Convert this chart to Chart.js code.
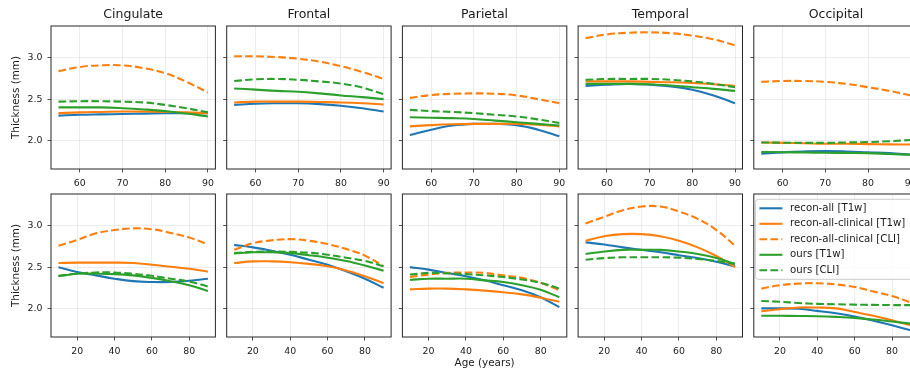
<!DOCTYPE html>
<html>
<head>
<meta charset="utf-8">
<script src="https://cdn.jsdelivr.net/npm/chart.js@4.4.1/dist/chart.umd.min.js"></script>
<style>
  html, body { margin: 0; padding: 0; background: #fff; }
  body { width: 910px; height: 373px; position: relative; overflow: hidden; }
  .panel { position: absolute; }
</style>
</head>
<body>
<script>
const regions = ['Cingulate', 'Frontal', 'Parietal', 'Temporal', 'Occipital'];
const seriesLabels = ['recon-all [T1w]', 'recon-all-clinical [T1w]', 'recon-all-clinical [CLI]', 'ours [T1w]', 'ours [CLI]'];
const seriesColors = ['#1f77b4', '#ff7f0e', '#ff7f0e', '#2ca02c', '#2ca02c'];
const seriesDashed = [false, false, true, false, true];
const yTicks = [2.0, 2.5, 3.0];
const xTicksOld = [60, 70, 80, 90];
const xTicksAll = [20, 40, 60, 80];
const agesOld = [55, 60, 65, 70, 75, 80, 85, 90];
const agesAll = [10, 20, 30, 40, 50, 60, 70, 80, 90];

// top row (55-90), one array per region
const oldReconAll = [
    [2.30, 2.31, 2.315, 2.32, 2.325, 2.33, 2.33, 2.33],
    [2.43, 2.445, 2.45, 2.45, 2.44, 2.42, 2.39, 2.35],
    [2.065, 2.13, 2.18, 2.20, 2.20, 2.185, 2.13, 2.05],
    [2.66, 2.675, 2.685, 2.675, 2.655, 2.615, 2.545, 2.45],
    [1.84, 1.855, 1.865, 1.87, 1.865, 1.855, 1.845, 1.825]
];
const oldClinicalT1w = [
    [2.33, 2.34, 2.345, 2.35, 2.35, 2.345, 2.34, 2.33],
    [2.46, 2.47, 2.47, 2.47, 2.465, 2.46, 2.45, 2.435],
    [2.17, 2.185, 2.195, 2.20, 2.20, 2.20, 2.19, 2.17],
    [2.715, 2.715, 2.715, 2.71, 2.705, 2.695, 2.68, 2.66],
    [1.975, 1.97, 1.965, 1.96, 1.96, 1.955, 1.952, 1.95]
];
const oldClinicalCli = [
    [2.84, 2.89, 2.91, 2.91, 2.875, 2.815, 2.71, 2.58],
    [3.02, 3.02, 3.01, 2.99, 2.955, 2.90, 2.83, 2.745],
    [2.515, 2.55, 2.565, 2.57, 2.565, 2.545, 2.50, 2.45],
    [3.24, 3.285, 3.305, 3.31, 3.30, 3.27, 3.225, 3.155],
    [2.71, 2.72, 2.72, 2.71, 2.685, 2.645, 2.60, 2.545]
];
const oldOursT1w = [
    [2.40, 2.40, 2.40, 2.39, 2.375, 2.355, 2.325, 2.29],
    [2.63, 2.615, 2.60, 2.59, 2.57, 2.545, 2.525, 2.50],
    [2.28, 2.275, 2.27, 2.26, 2.24, 2.22, 2.20, 2.18],
    [2.685, 2.685, 2.685, 2.68, 2.665, 2.645, 2.625, 2.60],
    [1.86, 1.857, 1.853, 1.85, 1.848, 1.845, 1.835, 1.825]
];
const oldOursCli = [
    [2.47, 2.475, 2.475, 2.47, 2.46, 2.43, 2.39, 2.34],
    [2.72, 2.74, 2.745, 2.735, 2.715, 2.69, 2.64, 2.56],
    [2.37, 2.355, 2.345, 2.33, 2.31, 2.29, 2.255, 2.21],
    [2.735, 2.745, 2.745, 2.745, 2.735, 2.715, 2.685, 2.645],
    [1.975, 1.972, 1.97, 1.97, 1.975, 1.98, 1.99, 2.005]
];

// bottom row (10-90)
const allReconAll = [
    [2.50, 2.44, 2.40, 2.36, 2.33, 2.32, 2.32, 2.335, 2.36],
    [2.77, 2.74, 2.70, 2.65, 2.59, 2.53, 2.45, 2.36, 2.25],
    [2.50, 2.47, 2.43, 2.39, 2.34, 2.28, 2.22, 2.135, 2.015],
    [2.80, 2.775, 2.74, 2.71, 2.68, 2.645, 2.61, 2.565, 2.51],
    [2.00, 2.00, 1.995, 1.97, 1.94, 1.90, 1.85, 1.795, 1.735]
];
const allClinicalT1w = [
    [2.55, 2.555, 2.555, 2.555, 2.55, 2.53, 2.505, 2.48, 2.445],
    [2.55, 2.57, 2.57, 2.56, 2.54, 2.51, 2.46, 2.39, 2.305],
    [2.23, 2.24, 2.24, 2.23, 2.215, 2.195, 2.17, 2.13, 2.08],
    [2.82, 2.875, 2.90, 2.90, 2.875, 2.82, 2.74, 2.635, 2.50],
    [1.965, 1.99, 2.01, 2.01, 2.00, 1.955, 1.91, 1.855, 1.795]
];
const allClinicalCli = [
    [2.76, 2.83, 2.91, 2.95, 2.97, 2.96, 2.915, 2.86, 2.775],
    [2.71, 2.79, 2.825, 2.84, 2.82, 2.78, 2.72, 2.64, 2.51],
    [2.38, 2.41, 2.43, 2.435, 2.43, 2.40, 2.37, 2.31, 2.22],
    [3.03, 3.11, 3.19, 3.235, 3.235, 3.175, 3.085, 2.95, 2.76],
    [2.24, 2.28, 2.30, 2.305, 2.29, 2.26, 2.205, 2.15, 2.07]
];
const allOursT1w = [
    [2.39, 2.42, 2.42, 2.415, 2.40, 2.37, 2.33, 2.28, 2.21],
    [2.665, 2.68, 2.68, 2.67, 2.645, 2.615, 2.575, 2.52, 2.455],
    [2.345, 2.36, 2.36, 2.36, 2.34, 2.32, 2.28, 2.225, 2.135],
    [2.66, 2.69, 2.71, 2.71, 2.71, 2.69, 2.66, 2.61, 2.54],
    [1.91, 1.91, 1.908, 1.905, 1.897, 1.885, 1.865, 1.84, 1.815]
];
const allOursCli = [
    [2.395, 2.42, 2.435, 2.435, 2.42, 2.395, 2.36, 2.325, 2.265],
    [2.67, 2.685, 2.69, 2.685, 2.675, 2.65, 2.615, 2.575, 2.51],
    [2.41, 2.43, 2.425, 2.415, 2.40, 2.38, 2.35, 2.31, 2.24],
    [2.59, 2.61, 2.62, 2.62, 2.62, 2.615, 2.60, 2.575, 2.54],
    [2.09, 2.08, 2.065, 2.055, 2.05, 2.045, 2.042, 2.04, 2.04]
];

const oldSeries = [oldReconAll, oldClinicalT1w, oldClinicalCli, oldOursT1w, oldOursCli];
const allSeries = [allReconAll, allClinicalT1w, allClinicalCli, allOursT1w, allOursCli];

Chart.defaults.font.family = '"DejaVu Sans", sans-serif';
Chart.defaults.color = '#1a1a1a';
Chart.defaults.animation = false;

// panel frame (all four spines)
const framePlugin = {
    id: 'frame',
    afterDraw(chart) {
        const {ctx, chartArea: a} = chart;
        ctx.save();
        ctx.strokeStyle = '#262626';
        ctx.lineWidth = 1;
        ctx.strokeRect(a.left, a.top, a.right - a.left, a.bottom - a.top);
        ctx.restore();
    }
};

const titlePlugin = {
    id: 'panelTitle',
    afterDraw(chart, args, opts) {
        if (!opts.text) return;
        const {ctx, chartArea: a} = chart;
        ctx.save();
        ctx.font = '12.5px "DejaVu Sans"';
        ctx.fillStyle = '#1a1a1a';
        ctx.textAlign = 'center';
        ctx.textBaseline = 'middle';
        ctx.fillText(opts.text, (a.left + a.right) / 2, a.top - 11.5);
        ctx.restore();
    }
};

const legendPlugin = {
    id: 'panelLegend',
    afterDraw(chart, args, opts) {
        if (!opts.show) return;
        const {ctx, chartArea: a} = chart;
        const x0 = a.left + 1.6, y0 = a.top + 5.3;
        ctx.save();
        ctx.beginPath();
        ctx.roundRect(x0, y0, 158, 80, 3);
        ctx.fillStyle = 'rgba(255,255,255,0.8)';
        ctx.fill();
        ctx.strokeStyle = '#cccccc';
        ctx.lineWidth = 1;
        ctx.stroke();
        chart.data.datasets.forEach((ds, i) => {
            const y = y0 + 9 + i * 15.5;
            ctx.strokeStyle = ds.borderColor;
            ctx.lineWidth = ds.borderWidth;
            ctx.setLineDash(ds.borderDash || []);
            ctx.beginPath();
            ctx.moveTo(x0 + 4, y);
            ctx.lineTo(x0 + 27, y);
            ctx.stroke();
            ctx.setLineDash([]);
            ctx.fillStyle = '#1a1a1a';
            ctx.font = '10.2px "DejaVu Sans"';
            ctx.textBaseline = 'middle';
            ctx.fillText(ds.label, x0 + 34.7, y);
        });
        ctx.restore();
    }
};

const panelLeft0 = 51, panelStep = 175.7, panelW = 164.4, panelH = 143;
const rowTops = [26, 194];

function makePanel(row, col) {
    const ages = row === 0 ? agesOld : agesAll;
    const series = row === 0 ? oldSeries : allSeries;
    const xTicks = row === 0 ? xTicksOld : xTicksAll;
    const xSpan = ages[ages.length - 1] - ages[0];

    const yW = col === 0 ? 51 : 8;
    const padTop = row === 0 ? 26 : 6;
    const xH = row === 0 ? 24 : 36;
    const areaLeft = panelLeft0 + panelStep * col;
    const divLeft = Math.floor(areaLeft - yW);
    const padL = areaLeft - yW - divLeft;
    const divW = Math.ceil(padL + yW + panelW + 6);
    const padR = divW - padL - yW - panelW;

    const div = document.createElement('div');
    div.className = 'panel';
    div.style.left = divLeft + 'px';
    div.style.top = (rowTops[row] - padTop) + 'px';
    div.style.width = divW + 'px';
    div.style.height = (padTop + panelH + xH) + 'px';
    const canvas = document.createElement('canvas');
    div.appendChild(canvas);
    document.body.appendChild(div);

    const datasets = seriesLabels.map((label, i) => ({
        label: label,
        data: ages.map((a, j) => ({x: a, y: series[i][col][j]})),
        borderColor: seriesColors[i],
        backgroundColor: seriesColors[i],
        borderWidth: 2.1,
        borderDash: seriesDashed[i] ? [7.7, 3.3] : [],
        pointRadius: 0,
        tension: 0.4,
        fill: false,
        order: seriesLabels.length - i
    }));

    new Chart(canvas, {
        type: 'line',
        data: { datasets: datasets },
        plugins: [framePlugin, titlePlugin, legendPlugin],
        options: {
            responsive: true,
            maintainAspectRatio: false,
            layout: { padding: { top: padTop, left: padL, right: padR, bottom: 0 } },
            plugins: {
                legend: { display: false },
                tooltip: { enabled: false },
                panelTitle: { text: row === 0 ? regions[col] : '' },
                panelLegend: { show: row === 1 && col === 4 }
            },
            scales: {
                x: {
                    type: 'linear',
                    min: ages[0] - xSpan * 0.05,
                    max: ages[ages.length - 1] + xSpan * 0.05,
                    afterBuildTicks: s => { s.ticks = xTicks.map(v => ({value: v})); },
                    afterFit: s => { s.height = xH; s.paddingLeft = 0; s.paddingRight = 0; },
                    ticks: { font: { size: 9.4 }, padding: 5, maxRotation: 0, autoSkip: false },
                    grid: { color: 'rgba(176,176,176,0.3)', lineWidth: 0.8, tickColor: '#262626', tickLength: 3.5, drawTicks: true },
                    border: { display: false },
                    title: {
                        display: row === 1 && col === 2,
                        text: 'Age (years)',
                        font: { size: 10.4 },
                        padding: { top: 0, bottom: 3.4 }
                    }
                },
                y: {
                    min: 1.653,
                    max: 3.387,
                    afterBuildTicks: s => { s.ticks = yTicks.map(v => ({value: v})); },
                    afterFit: s => { s.width = yW; s.paddingTop = 0; s.paddingBottom = 0; },
                    ticks: {
                        display: col === 0,
                        font: { size: 9.4 },
                        padding: 5,
                        callback: v => v.toFixed(1)
                    },
                    grid: { color: 'rgba(176,176,176,0.3)', lineWidth: 0.8, tickColor: '#262626', tickLength: 3.5, drawTicks: true },
                    border: { display: false },
                    title: {
                        display: col === 0,
                        text: 'Thickness (mm)',
                        font: { size: 10.4 },
                        padding: { top: 10.3, bottom: 0 }
                    }
                }
            }
        }
    });
}

for (let r = 0; r < 2; r++) {
    for (let c = 0; c < regions.length; c++) {
        makePanel(r, c);
    }
}
</script>
</body>
</html>
